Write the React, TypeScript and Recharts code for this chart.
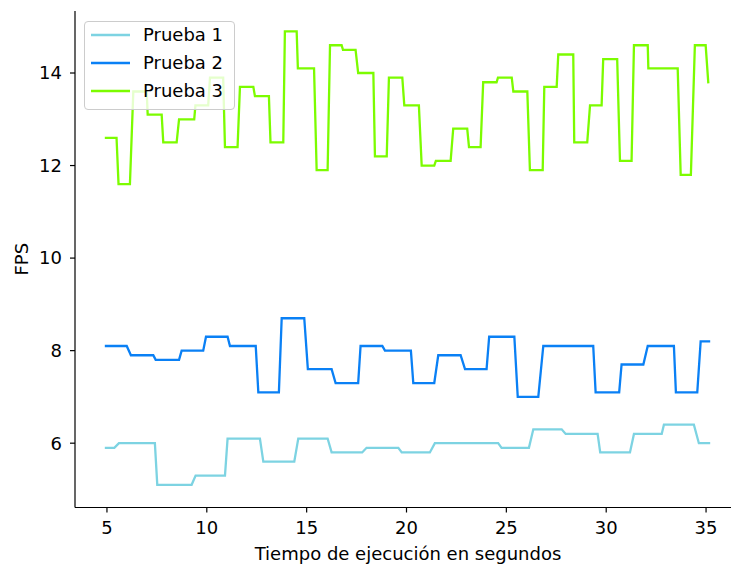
import React from 'react';
import { LineChart, Line, XAxis, YAxis, Legend } from 'recharts';

const FONT = '"DejaVu Sans", Verdana, sans-serif';

// Prueba 1: step segments (start time, end time, FPS)
const prueba1Start = [4.95, 5.6, 7.52, 9.44, 11.04, 12.83, 14.58, 16.25, 18.0, 19.76, 21.42, 24.76, 26.35, 27.97, 29.7, 31.39, 32.89, 34.64];
const prueba1End = [5.37, 7.4, 9.24, 10.91, 12.66, 14.38, 16.05, 17.78, 19.59, 21.17, 24.59, 26.13, 27.77, 29.57, 31.19, 32.78, 34.39, 35.15];
const prueba1Fps = [5.9, 6.0, 5.1, 5.3, 6.1, 5.6, 6.1, 5.8, 5.9, 5.8, 6.0, 5.9, 6.3, 6.2, 5.8, 6.2, 6.4, 6.0];

// Prueba 2
const prueba2Start = [4.95, 6.2, 7.44, 8.74, 9.96, 11.16, 12.58, 13.75, 15.06, 16.45, 17.7, 18.92, 20.34, 21.59, 22.93, 24.14, 25.57, 26.85, 29.47, 30.77, 32.08, 33.49, 34.73];
const prueba2End = [5.99, 7.32, 8.61, 9.82, 11.04, 12.45, 13.61, 14.88, 16.25, 17.58, 18.79, 20.22, 21.39, 22.71, 24.01, 25.4, 26.6, 29.35, 30.65, 31.86, 33.39, 34.56, 35.15];
const prueba2Fps = [8.1, 7.9, 7.8, 8.0, 8.3, 8.1, 7.1, 8.7, 7.6, 7.3, 8.1, 8.0, 7.3, 7.9, 7.6, 8.3, 7.0, 8.1, 7.1, 7.7, 8.1, 7.1, 8.2];

// Prueba 3
const prueba3Start = [4.95, 5.58, 6.32, 7.04, 7.82, 8.61, 9.43, 10.16, 10.91, 11.66, 12.41, 13.19, 13.91, 14.56, 15.5, 16.17, 16.82, 17.58, 18.42, 19.12, 19.89, 20.76, 21.47, 22.34, 23.13, 23.84, 24.58, 25.35, 26.18, 26.9, 27.6, 28.4, 29.19, 29.85, 30.69, 31.39, 32.11, 33.73, 34.44, 35.11];
const prueba3End = [5.48, 6.15, 6.99, 7.74, 8.49, 9.37, 10.07, 10.82, 11.54, 12.33, 13.11, 13.83, 14.5, 15.37, 16.05, 16.75, 17.45, 18.34, 19.01, 19.79, 20.62, 21.39, 22.21, 23.04, 23.71, 24.51, 25.27, 26.05, 26.82, 27.52, 28.35, 29.05, 29.77, 30.55, 31.27, 32.08, 33.58, 34.24, 34.98, 35.11];
const prueba3Fps = [12.6, 11.6, 13.6, 13.1, 12.5, 13.0, 13.3, 13.9, 12.4, 13.7, 13.5, 12.5, 14.9, 14.1, 11.9, 14.6, 14.5, 14.0, 12.2, 13.9, 13.3, 12.0, 12.1, 12.8, 12.4, 13.8, 13.9, 13.6, 11.9, 13.7, 14.4, 12.5, 13.3, 14.3, 12.1, 14.6, 14.1, 11.8, 14.6, 13.8];

const xTicks = [5, 10, 15, 20, 25, 30, 35];
const yTicks = [6, 8, 10, 12, 14];
const seriesNames = ['Prueba 1', 'Prueba 2', 'Prueba 3'];
const seriesColors = ['#7dd3e2', '#0a80f5', '#7cfc00'];
const xLabel = 'Tiempo de ejecución en segundos';
const yLabel = 'FPS';

const X_DOMAIN: [number, number] = [3.4, 36.75];
const Y_DOMAIN: [number, number] = [4.61, 15.34];

function toPoints(starts: number[], ends: number[], fps: number[]) {
  const pts: { t: number; fps: number }[] = [];
  starts.forEach((s, i) => {
    pts.push({ t: s, fps: fps[i] });
    if (ends[i] !== s) pts.push({ t: ends[i], fps: fps[i] });
  });
  return pts;
}

const series = [
  toPoints(prueba1Start, prueba1End, prueba1Fps),
  toPoints(prueba2Start, prueba2End, prueba2Fps),
  toPoints(prueba3Start, prueba3End, prueba3Fps),
];

const XLabel = (props: any) => {
  const vb = props.viewBox || {};
  return (
    <text x={vb.x + vb.width / 2} y={vb.y + vb.height - 5} textAnchor="middle" fontFamily={FONT} fontSize={18} fill="#000">
      {xLabel}
    </text>
  );
};

const YLabel = (props: any) => {
  const vb = props.viewBox || {};
  const cy = vb.y + vb.height / 2;
  const cx = 21;
  return (
    <text x={cx} y={cy} transform={`rotate(-90, ${cx}, ${cy})`} textAnchor="middle" dominantBaseline="central" fontFamily={FONT} fontSize={18} fill="#000">
      {yLabel}
    </text>
  );
};

const LegendBox = () => (
  <div
    style={{
      width: 149,
      height: 87,
      border: '1px solid #cccccc',
      borderRadius: 4,
      background: 'rgba(255,255,255,0.8)',
      position: 'relative',
      fontFamily: FONT,
      fontSize: 18,
      color: '#000',
    }}
  >
    {seriesNames.map((name, i) => (
      <div key={name} style={{ position: 'absolute', left: 0, top: 13 + i * 28 - 11, height: 22, width: 149 }}>
        <svg width={50} height={22} style={{ position: 'absolute', left: 0, top: 0 }}>
          <line x1={6} x2={45} y1={11} y2={11} stroke={seriesColors[i]} strokeWidth={2.3} />
        </svg>
        <span style={{ position: 'absolute', left: 58, top: 0, lineHeight: '22px', whiteSpace: 'nowrap' }}>{name}</span>
      </div>
    ))}
  </div>
);

export default function App() {
  return (
    <div style={{ position: 'absolute', left: 0, top: 0, width: 731, height: 565, overflow: 'hidden', background: '#fff' }}>
      <LineChart width={741} height={565} margin={{ top: 11, right: 0, bottom: 0, left: 0 }}>
        <XAxis
          dataKey="t"
          type="number"
          domain={X_DOMAIN}
          ticks={xTicks}
          allowDataOverflow
          height={57.5}
          tickSize={5}
          tickMargin={9}
          axisLine={{ stroke: '#000', strokeWidth: 1.2 }}
          tickLine={{ stroke: '#000', strokeWidth: 1.2 }}
          tick={{ fill: '#000', fontSize: 18, fontFamily: FONT }}
          label={<XLabel />}
        />
        <XAxis
          xAxisId="top"
          orientation="top"
          type="number"
          domain={X_DOMAIN}
          allowDataOverflow
          height={0}
          tick={false}
          tickLine={false}
          axisLine={{ stroke: '#000', strokeWidth: 1.2 }}
        />
        <YAxis
          type="number"
          domain={Y_DOMAIN}
          ticks={yTicks}
          allowDataOverflow
          width={75}
          tickSize={5}
          tickMargin={8}
          axisLine={{ stroke: '#000', strokeWidth: 1.2 }}
          tickLine={{ stroke: '#000', strokeWidth: 1.2 }}
          tick={{ fill: '#000', fontSize: 18, fontFamily: FONT }}
          label={<YLabel />}
        />
        {series.map((pts, i) => (
          <Line
            key={seriesNames[i]}
            data={pts}
            dataKey="fps"
            name={seriesNames[i]}
            type="linear"
            stroke={seriesColors[i]}
            strokeWidth={2.3}
            strokeLinecap="square"
            dot={false}
            activeDot={false}
            isAnimationActive={false}
          />
        ))}
        <Legend
          layout="vertical"
          align="center"
          verticalAlign="middle"
          content={<LegendBox />}
          wrapperStyle={{ left: 84, top: 21, width: 151, height: 89 }}
        />
      </LineChart>
    </div>
  );
}
